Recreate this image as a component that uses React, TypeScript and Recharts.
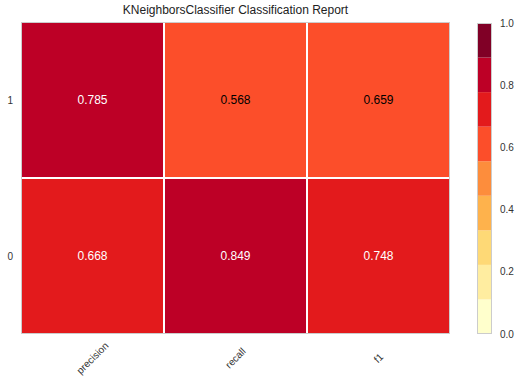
import React from "react"
import { BarChart, Bar, XAxis, YAxis, Cell, LabelList } from "recharts"

const metrics = ["precision", "recall", "f1"]
const classes = ["0", "1"]
const scoresClass0 = [0.668, 0.849, 0.748]
const scoresClass1 = [0.785, 0.568, 0.659]
const colorbarTicks = [0, 0.2, 0.4, 0.6, 0.8, 1.0]
// YlOrRd, 9 bins
const palette = ["#ffffcc", "#ffeda0", "#fed976", "#feb24c", "#fd8d3c", "#fc4e2a", "#e31a1c", "#bd0026", "#800026"]

const FONT = "'Liberation Sans', Arial, sans-serif"

const binOf = (v: number) => Math.min(palette.length - 1, Math.floor(v * palette.length))
const colorOf = (v: number) => palette[binOf(v)]

const rows = metrics.map((m, i) => ({
  metric: m,
  c0: 1,
  c1: 1,
  s0: scoresClass0[i],
  s1: scoresClass1[i],
}))

const bins = [
  palette.reduce((acc: any, _c, i) => {
    acc[`b${i}`] = 1 / palette.length
    return acc
  }, { name: "cb" }),
]

const CellLabel = (props: any) => {
  const { x, y, width, height, value } = props
  const white = binOf(value) >= 6
  return (
    <text
      x={x + width / 2}
      y={y + height / 2}
      textAnchor="middle"
      dominantBaseline="central"
      fontSize={12}
      fontFamily={FONT}
      fill={white ? "#ffffff" : "#000000"}
    >
      {value.toFixed(3)}
    </text>
  )
}

const XTick = ({ x, y, payload }: any) => (
  <g transform={`translate(${x},${y + 16})`}>
    <text transform="rotate(-45)" textAnchor="middle" dominantBaseline="central" fontSize={10} fontFamily={FONT} fill="#333">
      {payload.value}
    </text>
  </g>
)

export default function App() {
  return (
    <div style={{ position: "absolute", left: 0, top: 0, width: 520, height: 384, background: "#fff", fontFamily: FONT }}>
      <div style={{ position: "absolute", left: 21, top: 3, width: 429, textAlign: "center", fontSize: 12, color: "#222" }}>
        KNeighborsClassifier Classification Report
      </div>
      <div style={{ position: "absolute", left: 0, top: 0 }}>
        <BarChart
          width={450}
          height={384}
          data={rows}
          margin={{ top: 22, right: 0, left: 0, bottom: 0 }}
          barCategoryGap={0}
          barGap={0}
        >
          <XAxis dataKey="metric" height={50} tickLine={false} axisLine={false} tick={<XTick />} interval={0} />
          <YAxis
            type="number"
            domain={[0, 2]}
            ticks={[0.5, 1.5]}
            width={21}
            tickLine={false}
            axisLine={false}
            tickFormatter={(v: number) => classes[Math.floor(v)]}
            tick={{ fontSize: 10, fill: "#333", fontFamily: FONT }}
          />
          <Bar dataKey="c0" stackId="a" stroke="#fff" strokeWidth={2} isAnimationActive={false}>
            {rows.map((r) => (
              <Cell key={r.metric} fill={colorOf(r.s0)} />
            ))}
            <LabelList dataKey="s0" content={<CellLabel />} />
          </Bar>
          <Bar dataKey="c1" stackId="a" stroke="#fff" strokeWidth={2} isAnimationActive={false}>
            {rows.map((r) => (
              <Cell key={r.metric} fill={colorOf(r.s1)} />
            ))}
            <LabelList dataKey="s1" content={<CellLabel />} />
          </Bar>
        </BarChart>
      </div>
      <div style={{ position: "absolute", left: 21, top: 22, width: 429, height: 312, border: "1px solid #cccccc", boxSizing: "border-box", pointerEvents: "none" }} />
      <div style={{ position: "absolute", left: 477, top: 0 }}>
        <BarChart width={43} height={384} data={bins} margin={{ top: 23, right: 0, left: 0, bottom: 50 }} barCategoryGap={0}>
          <XAxis dataKey="name" hide />
          <YAxis
            orientation="right"
            type="number"
            domain={[0, 1]}
            ticks={colorbarTicks}
            width={28}
            tickLine={false}
            axisLine={false}
            tickFormatter={(v: number) => v.toFixed(1)}
            tick={{ fontSize: 10, fill: "#333", fontFamily: FONT }}
          />
          {palette.map((c, i) => (
            <Bar key={c} dataKey={`b${i}`} stackId="cb" fill={c} isAnimationActive={false} />
          ))}
        </BarChart>
      </div>
      <div style={{ position: "absolute", left: 477, top: 23, width: 15, height: 311, border: "1px solid #cccccc", boxSizing: "border-box", pointerEvents: "none" }} />
    </div>
  )
}
